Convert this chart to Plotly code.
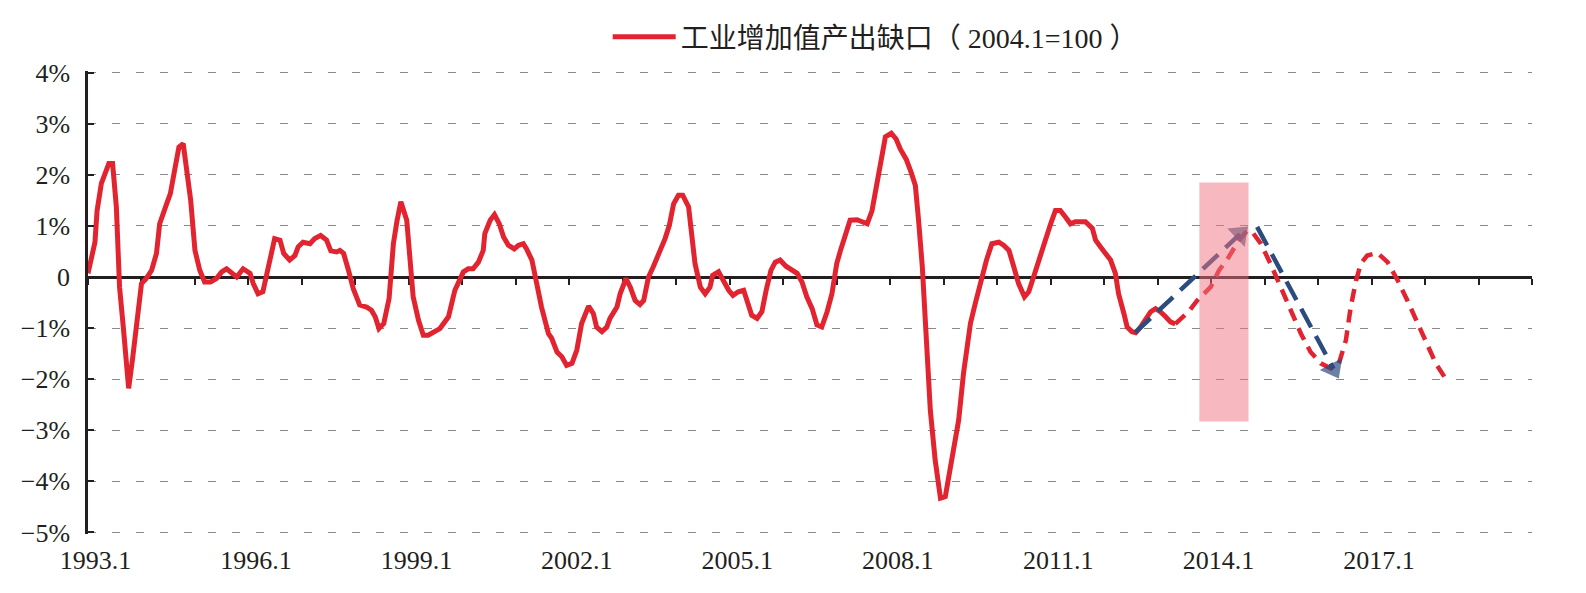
import plotly.graph_objects as go

# ---- data (decimal year, % output gap) ----
gap_x = [1993.00, 1993.13, 1993.17, 1993.25, 1993.39, 1993.46, 1993.53, 1993.59, 1993.66, 1993.71,
         1993.76, 1993.83, 1993.92, 1994.00, 1994.09, 1994.19, 1994.28, 1994.34, 1994.47, 1994.54,
         1994.62, 1994.70, 1994.78, 1994.85, 1994.92, 1995.00, 1995.09, 1995.18, 1995.29, 1995.40,
         1995.50, 1995.59, 1995.78, 1995.90, 1996.03, 1996.09, 1996.18, 1996.27, 1996.37, 1996.49,
         1996.59, 1996.66, 1996.77, 1996.87, 1996.93, 1997.02, 1997.15, 1997.24, 1997.35, 1997.46,
         1997.54, 1997.65, 1997.71, 1997.78, 1997.87, 1997.96, 1998.08, 1998.21, 1998.30, 1998.37,
         1998.44, 1998.53, 1998.63, 1998.71, 1998.78, 1998.85, 1998.96, 1999.02, 1999.08, 1999.18,
         1999.27, 1999.36, 1999.46, 1999.58, 1999.74, 1999.86, 2000.02, 2000.11, 2000.20, 2000.30,
         2000.39, 2000.42, 2000.52, 2000.60, 2000.69, 2000.77, 2000.86, 2000.97, 2001.05, 2001.14,
         2001.20, 2001.30, 2001.39, 2001.48, 2001.61, 2001.67, 2001.77, 2001.86, 2001.95, 2002.05,
         2002.14, 2002.23, 2002.36, 2002.45, 2002.51, 2002.61, 2002.70, 2002.76, 2002.89, 2002.95,
         2003.06, 2003.14, 2003.23, 2003.32, 2003.39, 2003.48, 2003.57, 2003.70, 2003.79, 2003.87,
         2003.95, 2004.04, 2004.12, 2004.23, 2004.29, 2004.35, 2004.45, 2004.54, 2004.63, 2004.68,
         2004.79, 2004.88, 2004.98, 2005.06, 2005.16, 2005.26, 2005.33, 2005.41, 2005.51, 2005.60,
         2005.68, 2005.77, 2005.85, 2005.94, 2006.05, 2006.16, 2006.26, 2006.35, 2006.44, 2006.54,
         2006.63, 2006.72, 2006.82, 2006.91, 2007.00, 2007.07, 2007.16, 2007.25, 2007.38, 2007.47,
         2007.57, 2007.66, 2007.75, 2007.81, 2007.91, 2008.02, 2008.11, 2008.19, 2008.30, 2008.39,
         2008.47, 2008.53, 2008.60, 2008.68, 2008.75, 2008.84, 2008.94, 2009.03, 2009.16, 2009.28,
         2009.37, 2009.50, 2009.59, 2009.69, 2009.80, 2009.90, 2010.03, 2010.12, 2010.22, 2010.31,
         2010.40, 2010.51, 2010.59, 2010.68, 2010.78, 2010.87, 2011.00, 2011.09, 2011.18, 2011.28,
         2011.37, 2011.46, 2011.56, 2011.65, 2011.78, 2011.84, 2011.93, 2012.02, 2012.12, 2012.21,
         2012.27, 2012.37, 2012.43, 2012.52, 2012.59, 2012.68, 2012.77, 2012.87, 2012.96, 2013.05,
         2013.15, 2013.24, 2013.33]
gap_y = [0.07, 0.68, 1.30, 1.83, 2.22, 2.22, 1.37, -0.20, -0.98, -1.76,
         -2.18, -1.63, -0.72, -0.13, -0.03, 0.13, 0.46, 1.04, 1.43, 1.63,
         2.09, 2.54, 2.61, 2.09, 1.50, 0.52, 0.13, -0.10, -0.10, -0.03,
         0.10, 0.16, 0.00, 0.16, 0.07, -0.13, -0.33, -0.29, 0.20, 0.75,
         0.72, 0.46, 0.33, 0.42, 0.59, 0.68, 0.65, 0.75, 0.81, 0.72,
         0.51, 0.49, 0.52, 0.46, 0.13, -0.23, -0.55, -0.59, -0.65, -0.78,
         -1.01, -0.91, -0.42, 0.65, 1.11, 1.47, 1.11, 0.33, -0.39, -0.85,
         -1.14, -1.14, -1.07, -1.01, -0.78, -0.26, 0.10, 0.16, 0.16, 0.29,
         0.52, 0.85, 1.11, 1.22, 1.04, 0.78, 0.62, 0.55, 0.62, 0.65,
         0.55, 0.33, -0.13, -0.59, -1.11, -1.20, -1.47, -1.56, -1.73, -1.69,
         -1.43, -0.91, -0.57, -0.72, -0.98, -1.07, -0.98, -0.81, -0.59, -0.33,
         -0.03, -0.20, -0.46, -0.54, -0.46, 0.00, 0.20, 0.52, 0.75, 1.01,
         1.43, 1.60, 1.60, 1.37, 0.85, 0.26, -0.20, -0.33, -0.20, 0.03,
         0.10, -0.07, -0.26, -0.36, -0.29, -0.26, -0.46, -0.75, -0.81, -0.68,
         -0.26, 0.13, 0.29, 0.33, 0.21, 0.14, 0.07, -0.10, -0.39, -0.62,
         -0.94, -0.98, -0.68, -0.33, 0.26, 0.52, 0.85, 1.11, 1.12, 1.08,
         1.04, 1.30, 1.83, 2.28, 2.74, 2.81, 2.70, 2.50, 2.30, 2.05,
         1.79, 1.11, 0.20, -1.30, -2.61, -3.58, -4.33, -4.30, -3.58, -2.80,
         -1.89, -0.91, -0.52, -0.07, 0.33, 0.65, 0.68, 0.62, 0.52, 0.20,
         -0.13, -0.39, -0.29, 0.00, 0.33, 0.68, 1.04, 1.30, 1.30, 1.17,
         1.04, 1.08, 1.08, 1.08, 0.95, 0.72, 0.59, 0.46, 0.33, 0.07,
         -0.33, -0.72, -0.98, -1.07, -1.09, -0.98, -0.85, -0.68, -0.62, -0.68,
         -0.78, -0.88, -0.92]

fc_x = [2013.33, 2013.58, 2013.74, 2013.99, 2014.15, 2014.33, 2014.52, 2014.68, 2014.77, 2014.93,
        2015.11, 2015.30, 2015.49, 2015.68, 2015.86, 2016.05, 2016.24, 2016.39, 2016.52, 2016.61,
        2016.71, 2016.80, 2016.92, 2017.11, 2017.30, 2017.49, 2017.67, 2017.86, 2018.05, 2018.20,
        2018.36]
fc_y = [-0.92, -0.68, -0.46, -0.20, 0.13, 0.39, 0.72, 0.91, 0.88, 0.65,
        0.26, -0.20, -0.65, -1.11, -1.47, -1.69, -1.79, -1.69, -1.24, -0.59,
        -0.07, 0.26, 0.42, 0.47, 0.29, -0.07, -0.46, -0.91, -1.37, -1.69,
        -1.95]

up_x = [2012.58, 2014.54]
up_y = [-1.09, 0.84]
down_x = [2014.86, 2016.29]
down_y = [0.98, -1.80]

band_x = [2013.78, 2014.70]
band_y = [-2.83, 1.85]

label_years = [1993, 1996, 1999, 2002, 2005, 2008, 2011, 2014, 2017]
label_text = [f"{y}.1" for y in label_years]
y_vals = [-5, -4, -3, -2, -1, 0, 1, 2, 3, 4]
y_text = ["\u22125%", "\u22124%", "\u22123%", "\u22122%", "\u22121%", "0", "1%", "2%", "3%", "4%"]

RED = "#E1242F"
BLUE = "#2B4C7E"
INK = "#231F20"
FONT = "'Liberation Serif', 'Noto Sans CJK SC', serif"
X_RANGE = [1993, 2020]
PAD = 0.03
Y_RANGE = [-5 - PAD, 4 + PAD]
M_T, M_B = 71, 59
PLOT_H = 593 - M_T - M_B

fig = go.Figure()

fig.add_trace(go.Scatter(
    x=gap_x, y=gap_y, mode="lines", name="工业增加值产出缺口（ 2004.1=100 ）",
    line=dict(color=RED, width=5), showlegend=True,
))
fig.add_trace(go.Scatter(
    x=fc_x, y=fc_y, mode="lines", showlegend=False,
    line=dict(color=RED, width=4.5, dash="13px,8px"),
))
for ax_, ay_ in ((up_x, up_y), (down_x, down_y)):
    fig.add_trace(go.Scatter(
        x=ax_, y=ay_, mode="lines+markers", showlegend=False, xaxis="x2",
        line=dict(color=BLUE, width=4.5, dash="21px,10px"),
        marker=dict(symbol="triangle-up", size=[0, 22], color=BLUE, angleref="previous",
                    line=dict(width=0)),
    ))

fig.add_shape(type="rect", xref="x", yref="y",
              x0=band_x[0], x1=band_x[1], y0=band_y[0], y1=band_y[1],
              fillcolor="rgba(240,115,128,0.5)", line=dict(width=0), layer="above")

fig.update_layout(
    width=1586, height=593,
    margin=dict(l=88, r=54, t=M_T, b=M_B),
    paper_bgcolor="white", plot_bgcolor="white",
    font=dict(family=FONT, size=26, color=INK),
    showlegend=True,
    legend=dict(orientation="h", x=0.3599, xanchor="left",
                y=1 + (M_T - 12) / PLOT_H, yanchor="top",
                itemwidth=63,
                font=dict(family=FONT, size=28, color=INK), bgcolor="rgba(0,0,0,0)"),
    xaxis=dict(range=X_RANGE, anchor="free", position=(5 + PAD) / (9 + 2 * PAD),
               tick0=1993, dtick=1,
               ticks="outside", ticklen=6, tickwidth=2, tickcolor=INK,
               showline=True, linecolor=INK, linewidth=2.5,
               showticklabels=False, showgrid=False, zeroline=False, layer="below traces"),
    xaxis2=dict(range=X_RANGE, overlaying="x", anchor="y", side="bottom",
                tickmode="array", tickvals=[y + 0.14 for y in label_years], ticktext=label_text,
                ticks="", showline=False, showgrid=False, zeroline=False,
                ticklabelstandoff=8, tickfont=dict(family=FONT, size=26, color=INK)),
    yaxis=dict(range=Y_RANGE, tickmode="array", tickvals=y_vals, ticktext=y_text,
               ticks="inside", ticklen=6, tickwidth=2, tickcolor=INK,
               showline=True, linecolor=INK, linewidth=2.5,
               showgrid=True, gridcolor="#8a8a8a", gridwidth=1, griddash="8px,16px",
               zeroline=False, ticklabelstandoff=10,
               tickfont=dict(family=FONT, size=26, color=INK)),
)

fig.write_html("out.html")
